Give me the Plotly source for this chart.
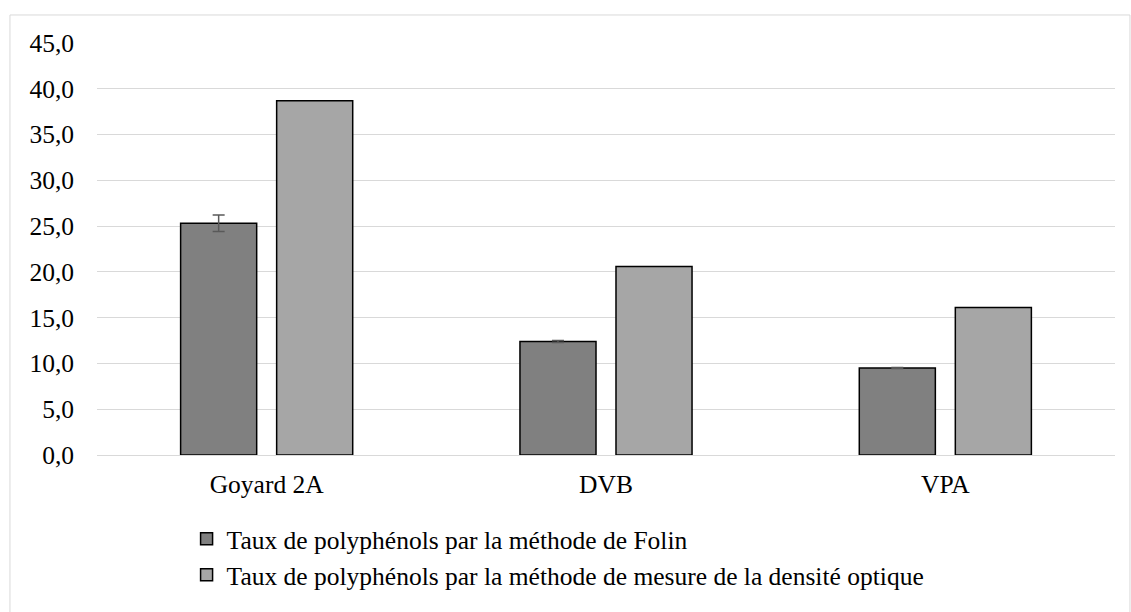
import plotly.graph_objects as go

categories = ["Goyard 2A", "DVB", "VPA"]
folin_values = [25.3, 12.4, 9.5]
folin_errors = [0.9, 0.1, 0.05]
optical_values = [38.7, 20.6, 16.1]

folin_name = "Taux de polyphénols par la méthode de Folin"
optical_name = "Taux de polyphénols par la méthode de mesure de la densité optique"

tick_values = [0, 5, 10, 15, 20, 25, 30, 35, 40, 45]

FONT = "Times New Roman, Liberation Serif, DejaVu Serif, serif"
SIZE = 25.5

fig = go.Figure()
fig.add_trace(go.Bar(
    x=categories, y=folin_values, name=folin_name, legendgroup="a",
    marker=dict(color="#808080", line=dict(color="#000000", width=1.5)),
    error_y=dict(type="data", array=folin_errors, visible=True,
                 color="#595959", thickness=1.5, width=6),
))
fig.add_trace(go.Bar(
    x=categories, y=optical_values, name=optical_name, legendgroup="b",
    marker=dict(color="#A6A6A6", line=dict(color="#000000", width=1.5)),
))

fig.update_layout(
    width=1131, height=612,
    margin=dict(l=97, r=16, t=43, b=157, autoexpand=False),
    paper_bgcolor="white", plot_bgcolor="white",
    font=dict(family=FONT, size=SIZE, color="#000000"),
    separators=",.",
    barmode="group", bargap=0.434, bargroupgap=0.208,
    showlegend=True,
    legend=dict(
        orientation="v", x=0.088, xanchor="left", y=-0.147, yanchor="top",
        font=dict(family=FONT, size=SIZE), tracegroupgap=0,
        bgcolor="rgba(0,0,0,0)",
    ),
    xaxis=dict(showgrid=False, showline=True, linecolor="#d9d9d9", linewidth=1,
               ticks="", tickfont=dict(size=SIZE), ticklabelstandoff=6),
    yaxis=dict(range=[0, 45], tickvals=tick_values, tickformat=".1f",
               showgrid=True, gridcolor="#d9d9d9", gridwidth=1,
               zeroline=False, showline=False, ticks="",
               ticklabelstandoff=22, tickfont=dict(size=SIZE)),
    shapes=[dict(type="rect", xref="paper", yref="paper",
                 x0=-0.0855, x1=1.0147, y0=-0.45, y1=1.068,
                 line=dict(color="#d9d9d9", width=1), layer="below")],
)

fig.write_html("out.html")
